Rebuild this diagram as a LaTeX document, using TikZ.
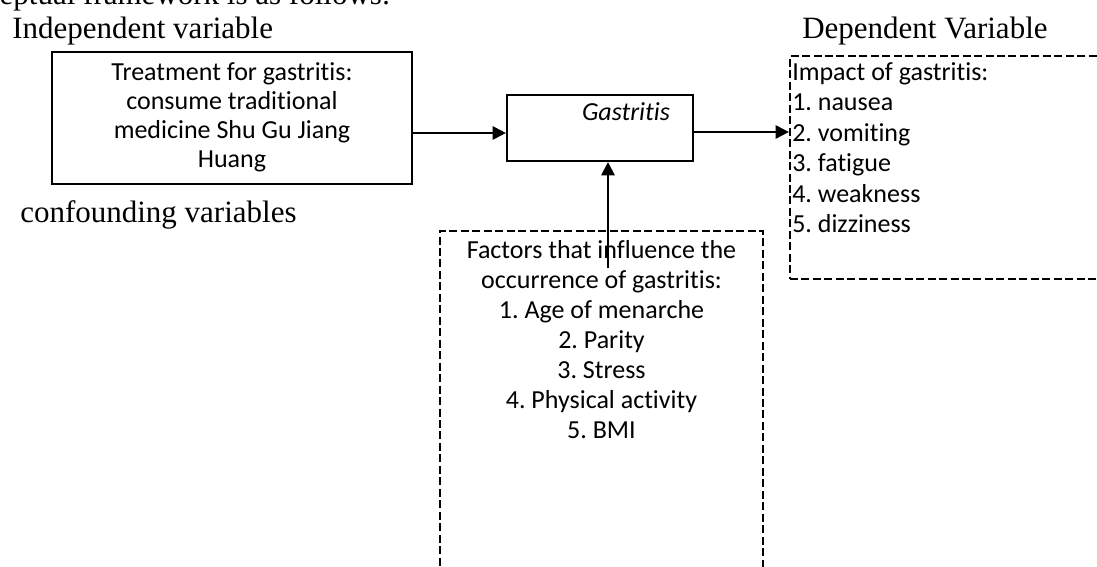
\documentclass[tikz,border=0pt]{standalone}
\usepackage{fontspec}
\setmainfont{Liberation Serif}
\newfontfamily\calib[Ligatures={NoCommon,NoRare,NoContextual}]{Carlito}
\usetikzlibrary{arrows.meta}
\frenchspacing
\begin{document}
\begin{tikzpicture}[x=0.75pt,y=-0.75pt,
  solidbox/.style={draw, line width=1.6pt, inner sep=0pt, rectangle},
  dashbox/.style={draw, line width=1.7pt, inner sep=0pt, rectangle, dash pattern=on 6pt off 2.6pt},
  sanstext/.style={font=\calib\fontsize{19.5pt}{22.5pt}\selectfont, inner sep=0pt},
  seriftext/.style={font=\fontsize{23.25pt}{28pt}\selectfont, inner sep=0pt},
  arr/.style={line width=1.6pt, -{Triangle[length=10pt,width=10pt]}}]
\useasboundingbox (0,0) rectangle (1097,567);
\clip (0,0) rectangle (1097,567);
\fill[white] (0,0) rectangle (1097,567);

% heading labels
\node[seriftext, anchor=base west] (intro) at (-66,5) {Conceptual framework is as follows:};
\node[seriftext, anchor=base west] (indep) at (12,39) {Independent variable};
\node[seriftext, anchor=base west] (dep) at (802,39) {Dependent Variable};
\node[seriftext, anchor=base west] (conf) at (20,222) {confounding variables};

% boxes
\node[solidbox, minimum width=270pt, minimum height=99pt] (treat) at (232,118) {};
\node[sanstext, align=center, anchor=north, font=\calib\fontsize{19.5pt}{21.75pt}\selectfont] (treattxt) at (232,62)
  {Treatment for gastritis:\\consume traditional\\medicine Shu Gu Jiang\\Huang};

\node[solidbox, minimum width=139.5pt, minimum height=49.5pt] (gast) at (600,128) {};
\node[sanstext, anchor=base] (gasttxt) at (626,121) {\itshape Gastritis};

\node[dashbox, minimum width=255pt, minimum height=167.25pt] (impact) at (960,167.5) {};
\node[sanstext, align=left, anchor=north west, font=\calib\fontsize{19.5pt}{22.9pt}\selectfont] (impacttxt) at (792,62)
  {Impact of gastritis:\\1. nausea\\2. vomiting\\3. fatigue\\4. weakness\\5. dizziness};

\node[dashbox, minimum width=242.25pt, minimum height=276.75pt] (factors) at (601.5,415.5) {};
\node[sanstext, align=center, anchor=north] (factorstxt) at (601.5,240)
  {Factors that influence the\\occurrence of gastritis:\\1. Age of menarche\\2. Parity\\3. Stress\\4. Physical activity\\5. BMI};

% connectors
\coordinate (a1) at (0,133);
\coordinate (a2) at (0,132);
\coordinate (fstart) at (608,268);
\draw[arr] (treat.east |- a1) -- (gast.west |- a1);
\draw[arr] (gast.east |- a2) -- (impact.west |- a2);
\draw[arr] (fstart) -- (gast.south -| fstart);
\end{tikzpicture}
\end{document}
